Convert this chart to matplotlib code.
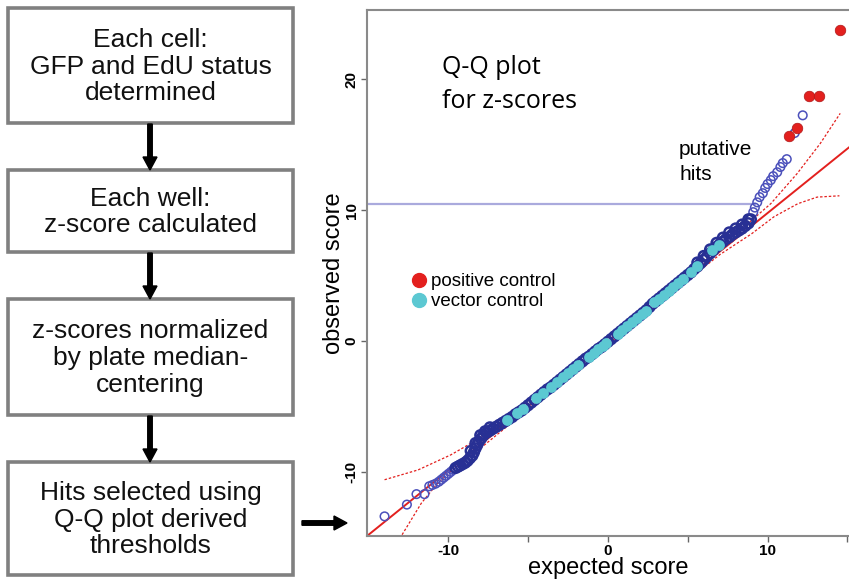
import numpy as np
import matplotlib
matplotlib.use("Agg")
import matplotlib.pyplot as plt
from matplotlib.patches import Rectangle
from matplotlib.lines import Line2D

plt.rcParams['font.family'] = ['Liberation Sans', 'DejaVu Sans']
plt.rcParams['axes.unicode_minus'] = False

# flowchart steps
steps = ["Each cell:\nGFP and EdU status\ndetermined",
         "Each well:\nz-score calculated",
         "z-scores normalized\nby plate median-\ncentering",
         "Hits selected using\nQ-Q plot derived\nthresholds"]

# Q-Q data: all wells (open circles)
tail_lo_x = [-14.0, -12.6, -12.0, -11.5, -11.2, -11.0, -10.8, -10.6, -10.45, -10.3, -10.15, -10.0, -9.85, -9.7]
tail_lo_y = [-13.4, -12.5, -11.7, -11.7, -11.1, -11.0, -10.9, -10.75, -10.6, -10.45, -10.3, -10.15, -10.0, -9.85]

band_x = [-9.55, -9.4, -9.25, -9.1, -8.95, -8.8, -8.65, -8.5, -8.4, -8.3, -8.2, -8.1, -7.95, -7.8,
          -7.6, -7.4, -7.2, -7.0, -6.8, -6.6, -6.4, -6.2, -6.0, -5.8, -5.6, -5.4, -5.2, -5.0,
          -4.8, -4.6, -4.4, -4.2, -4.0, -3.8, -3.6, -3.4, -3.2, -3.0, -2.8, -2.6, -2.4, -2.2,
          -2.0, -1.8, -1.6, -1.4, -1.2, -1.0, -0.8, -0.6, -0.4, -0.2, 0.0, 0.2, 0.4, 0.6,
          0.8, 1.0, 1.2, 1.4, 1.6, 1.8, 2.0, 2.2, 2.4, 2.6, 2.8, 3.0, 3.2, 3.4, 3.6, 3.8,
          4.0, 4.2, 4.4, 4.6, 4.8, 5.0, 5.2, 5.4, 5.6, 5.8, 6.0, 6.2, 6.4, 6.6, 6.8, 7.0,
          7.2, 7.4, 7.6, 7.8, 8.0, 8.2, 8.4, 8.6, 8.8, 8.95,
          -8.6, -8.3, -8.0, -7.7, -7.4,
          5.6, 6.0, 6.4, 6.8, 7.2, 7.6, 8.0, 8.4, 8.8]
band_y = [-9.7, -9.6, -9.5, -9.4, -9.3, -9.15, -8.95, -8.75, -8.5, -8.2, -7.95, -7.7, -7.45, -7.2,
          -7.0, -6.85, -6.7, -6.55, -6.4, -6.25, -6.1, -5.95, -5.8, -5.6, -5.45, -5.3, -5.1, -4.9,
          -4.7, -4.5, -4.3, -4.1, -3.9, -3.7, -3.55, -3.35, -3.15, -2.95, -2.75, -2.55, -2.35, -2.15,
          -1.95, -1.75, -1.55, -1.35, -1.2, -1.0, -0.8, -0.6, -0.45, -0.25, -0.05, 0.15, 0.35, 0.55,
          0.75, 0.95, 1.15, 1.35, 1.55, 1.75, 1.95, 2.15, 2.35, 2.6, 2.85, 3.05, 3.25, 3.45, 3.65, 3.85,
          4.05, 4.25, 4.45, 4.65, 4.85, 5.05, 5.25, 5.5, 5.7, 5.95, 6.2, 6.45, 6.7, 6.95, 7.2, 7.4,
          7.6, 7.8, 7.95, 8.15, 8.3, 8.45, 8.6, 8.8, 9.0, 9.3,
          -8.4, -7.8, -7.2, -6.9, -6.6,
          6.0, 6.5, 7.0, 7.5, 7.9, 8.3, 8.6, 8.9, 9.3]

tail_hi_x = [9.1, 9.2, 9.35, 9.5, 9.7, 9.85, 10.0, 10.2, 10.35, 10.6, 10.8, 10.95, 11.2, 11.7, 12.2]
tail_hi_y = [9.85, 10.2, 10.6, 11.0, 11.3, 11.7, 12.0, 12.3, 12.6, 12.9, 13.3, 13.6, 13.9, 15.9, 17.25]

# vector control wells
vec_x = [-6.3, -5.7, -5.3, -4.5, -4.1, -3.6, -3.2, -2.8, -2.5, -2.2, -1.9, -1.2, -0.9, -0.6,
         -0.3, -0.1, 0.6, 0.9, 1.2, 1.5, 1.8, 2.1, 2.35, 2.9, 3.2, 3.5, 3.8, 4.1, 4.4, 4.7,
         5.2, 5.6, 6.5, 6.95]
vec_y = [-6.0, -5.5, -5.2, -4.35, -3.95, -3.5, -3.15, -2.75, -2.45, -2.15, -1.85, -1.2, -0.9, -0.6,
         -0.35, -0.15, 0.55, 0.85, 1.15, 1.45, 1.75, 2.05, 2.3, 2.95, 3.25, 3.55, 3.85, 4.15, 4.45, 4.75,
         5.25, 5.7, 6.95, 7.35]

# positive control wells
pos_x = [11.35, 11.85, 12.6, 13.2, 14.55]
pos_y = [15.7, 16.3, 18.7, 18.7, 23.8]

# reference line and envelope
ref_x = [-15.1, 15.1]
ref_y = [-14.9, 14.8]
env_up_x = [-14.0, -11.9, -9.85, -8.0, -6.3, -3.0, 0.0, 3.0, 6.0, 8.5, 10.2, 11.85, 13.3, 14.55]
env_up_y = [-10.6, -9.85, -8.7, -7.4, -6.0, -2.9, 0.1, 3.1, 6.1, 8.7, 10.5, 12.8, 15.1, 17.4]
env_lo_x = [-12.9, -11.7, -10.7, -9.8, -8.0, -4.0, 0.0, 4.0, 7.0, 9.0, 10.4, 11.9, 13.1, 14.5]
env_lo_y = [-14.8, -12.4, -10.9, -9.9, -8.2, -4.2, -0.25, 3.7, 6.6, 8.2, 9.5, 10.5, 11.0, 11.1]

hit_thresh = 10.45

navy = '#283094'
cyan = '#5cc8d2'
red = '#e3201e'

fig = plt.figure(figsize=(8.49, 5.79), dpi=100)

# ---- flowchart (pixel coords)
fa = fig.add_axes([0, 0, 1, 1])
fa.set_xlim(0, 849)
fa.set_ylim(579, 0)
fa.axis('off')

boxes = [(8, 123), (170, 252), (299, 415), (462, 575)]
for (top, bot), txt in zip(boxes, steps):
    fa.add_patch(Rectangle((8, top), 285, bot - top, fill=False, ec='#808080', lw=2.6))
    fa.text(150.5, (top + bot) / 2 + 1, txt, ha='center', va='center', fontsize=19,
            color='#111111', linespacing=1.15)

for i in range(3):
    y0 = boxes[i][1] + 1
    y1 = boxes[i + 1][0]
    fa.arrow(150, y0, 0, y1 - y0, width=4.5, head_width=14, head_length=13,
             length_includes_head=True, fc='black', ec='black')
fa.arrow(302, 523, 45, 0, width=4.5, head_width=14, head_length=13,
         length_includes_head=True, fc='black', ec='black')

# ---- Q-Q plot
ax = fig.add_axes([367 / 849, 43 / 579, 482 / 849, 526 / 579])
ax.set_xlim(-15.1, 15.1)
ax.set_ylim(-14.9, 25.3)

ax.hlines(hit_thresh, -15.1, 9.3, color='#aaaadd', lw=1.6, zorder=1)
ax.plot(env_up_x, env_up_y, color=red, lw=0.9, ls=(0, (2, 1.5)), zorder=2)
ax.plot(env_lo_x, env_lo_y, color=red, lw=0.9, ls=(0, (2, 1.5)), zorder=2)
ax.plot(ref_x, ref_y, color=red, lw=1.4, zorder=2.5)

ax.scatter(tail_lo_x, tail_lo_y, s=38, facecolors='none', edgecolors='#4b50bb', lw=1.1, zorder=3)
ax.scatter(tail_hi_x, tail_hi_y, s=38, facecolors='none', edgecolors='#4b50bb', lw=1.1, zorder=3)
ax.scatter(band_x, band_y, s=50, facecolors='none', edgecolors=navy, lw=1.8, zorder=3)
ax.scatter(vec_x, vec_y, s=60, color=cyan, lw=0, zorder=5)
ax.scatter(pos_x, pos_y, s=58, color=red, edgecolors='#b01818', lw=0.5, zorder=6)

for side in ['left', 'bottom', 'top']:
    ax.spines[side].set_color('#8a8a8a')
    ax.spines[side].set_linewidth(1.5)
ax.spines['right'].set_visible(False)

ax.set_xticks([-10, -5, 0, 5, 10, 15], ['-10', '', '0', '', '10', ''])
ax.set_yticks([-10, 0, 10, 20], ['-10', '0', '10', '20'])
ax.tick_params(direction='out', length=4, width=1, color='#666666', labelsize=11, pad=2)
for lab in ax.get_xticklabels() + ax.get_yticklabels():
    lab.set_fontweight('bold')
for lab in ax.get_yticklabels():
    lab.set_rotation(90)
    lab.set_va('center')

ax.set_xlabel('expected score', fontsize=17)
ax.set_ylabel('observed score', fontsize=17)
ax.xaxis.set_label_coords(0.5, -0.04)
ax.yaxis.set_label_coords(-0.046, 0.5)

ax.text(-10.4, 20.4, 'Q-Q plot', fontsize=18, family=['Open Sans', 'DejaVu Sans'], va='baseline')
ax.text(-10.4, 17.8, 'for z-scores', fontsize=18, family=['Open Sans', 'DejaVu Sans'], va='baseline')
ax.text(4.45, 14.2, 'putative', fontsize=15, va='baseline')
ax.text(4.45, 12.3, 'hits', fontsize=15, va='baseline')

handles = [Line2D([], [], marker='o', ls='', color=red, markersize=10),
           Line2D([], [], marker='o', ls='', color=cyan, markersize=10)]
ax.legend(handles, ['positive control', 'vector control'], loc='upper left',
          bbox_to_anchor=(412 / 849, 1 - 273 / 579), bbox_transform=fig.transFigure,
          frameon=False, fontsize=13.5, handlelength=0.7, handletextpad=0.3,
          labelspacing=0.15, borderpad=0, borderaxespad=0)

fig.savefig('out.png', dpi=100)
